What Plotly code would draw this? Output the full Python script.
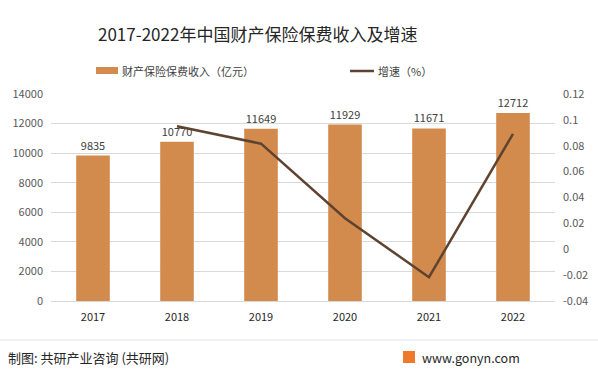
import plotly.graph_objects as go

years = ["2017", "2018", "2019", "2020", "2021", "2022"]
revenue = [9835, 10770, 11649, 11929, 11671, 12712]
growth_years = ["2018", "2019", "2020", "2021", "2022"]
growth = [0.095, 0.0816, 0.024, -0.0216, 0.0892]
left_ticks = [0, 2000, 4000, 6000, 8000, 10000, 12000, 14000]
left_labels = ["0", "2000", "4000", "6000", "8000", "10000", "12000", "14000"]
right_ticks = [-0.04, -0.02, 0, 0.02, 0.04, 0.06, 0.08, 0.1, 0.12]
right_labels = ["-0.04", "-0.02", "0", "0.02", "0.04", "0.06", "0.08", "0.1", "0.12"]
bar_name = "财产保险保费收入（亿元）"
line_name = "增速（%）"

FONT = "Noto Sans CJK SC"
BAR = "#D38B4D"
LINE = "#5E4330"

L, R, T, B = 51, 43, 94, 69
PW, PH = 598 - L - R, 370 - T - B


def px(x):
    return (x - L) / PW


def py(y):
    return (370 - B - y) / PH


fig = go.Figure()
fig.add_trace(go.Bar(
    x=years, y=revenue, name=bar_name,
    marker=dict(color=BAR, line=dict(width=0)), width=0.4,
    text=[str(v) for v in revenue], textposition="outside",
    textfont=dict(size=11, color="#404040", family=FONT), cliponaxis=False,
))
fig.add_trace(go.Scatter(
    x=growth_years, y=growth, name=line_name, yaxis="y2", mode="lines",
    line=dict(color=LINE, width=2.5),
))

fig.update_layout(
    width=598, height=370,
    margin=dict(l=L, r=R, t=T, b=B, autoexpand=False),
    paper_bgcolor="white", plot_bgcolor="white",
    font=dict(family=FONT, size=11, color="#595959"),
    showlegend=False,
    xaxis=dict(type="category", showgrid=False, showline=True, linecolor="#D9D9D9", linewidth=1,
               ticks="", ticklabelstandoff=6, tickfont=dict(size=11, color="#262626")),
    yaxis=dict(range=[0, 14000], tickvals=left_ticks, ticktext=left_labels, showgrid=True,
               gridcolor="#D9D9D9", zeroline=False, ticks="", showline=False, ticklabelstandoff=7,
               tickfont=dict(size=11, color="#595959")),
    yaxis2=dict(overlaying="y", side="right", range=[-0.04, 0.12], tickvals=right_ticks,
                ticktext=right_labels, showgrid=False, zeroline=False, showline=False, ticks="",
                ticklabelstandoff=7, tickfont=dict(size=11, color="#595959")),
)

# title
fig.add_annotation(text="2017-2022年中国财产保险保费收入及增速", xref="paper", yref="paper",
                   x=px(96), xanchor="left", y=py(33), yanchor="middle", showarrow=False,
                   font=dict(size=17, color="#262626", family=FONT))

# legend (drawn manually to match the wide swatches)
fig.add_shape(type="rect", xref="paper", yref="paper", x0=px(96), x1=px(118),
              y0=py(74), y1=py(67), fillcolor=BAR, line=dict(width=0))
fig.add_annotation(text=bar_name, xref="paper", yref="paper", x=px(120), xanchor="left",
                   y=py(71), yanchor="middle", showarrow=False,
                   font=dict(size=11, color="#404040", family=FONT))
fig.add_shape(type="line", xref="paper", yref="paper", x0=px(350), x1=px(374),
              y0=py(71), y1=py(71), line=dict(color=LINE, width=2.5))
fig.add_annotation(text=line_name, xref="paper", yref="paper", x=px(376), xanchor="left",
                   y=py(71), yanchor="middle", showarrow=False,
                   font=dict(size=11, color="#404040", family=FONT))

# footer separator and texts
fig.add_shape(type="line", xref="paper", yref="paper", x0=px(0), x1=px(598),
              y0=py(340), y1=py(340), line=dict(color="#E3E3E3", width=1))
fig.add_annotation(text="制图: 共研产业咨询 (共研网)", xref="paper", yref="paper",
                   x=px(6), xanchor="left", y=py(357), yanchor="middle",
                   showarrow=False, font=dict(size=13, color="#262626", family=FONT))
fig.add_shape(type="rect", xref="paper", yref="paper", x0=px(403), x1=px(415),
              y0=py(363), y1=py(351), fillcolor="#F07A2C", line=dict(width=0))
fig.add_annotation(text="www.gonyn.com", xref="paper", yref="paper",
                   x=px(420), xanchor="left", y=py(357), yanchor="middle",
                   showarrow=False, font=dict(size=12.5, color="#262626", family=FONT))

fig.write_html("out.html", config={"displayModeBar": False},
               post_script="document.body.style.margin='0px';")
